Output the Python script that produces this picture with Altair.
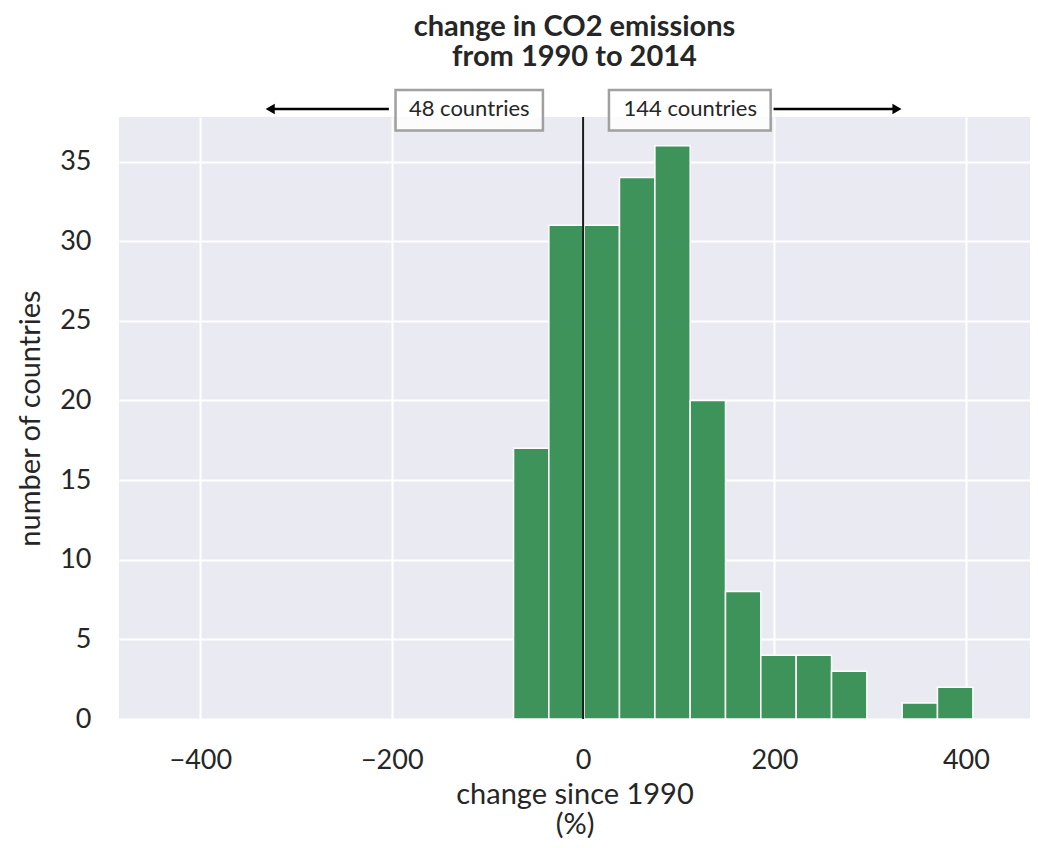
import altair as alt
import pandas as pd

# histogram bins (change since 1990, %) and counts
bin_start = [-72.7, -35.8, 1.1, 38.0, 75.0, 111.9, 148.8, 185.7, 222.7, 259.6, 296.5, 333.4, 370.3]
bin_end = [-35.8, 1.1, 38.0, 75.0, 111.9, 148.8, 185.7, 222.7, 259.6, 296.5, 333.4, 370.3, 407.3]
counts = [17, 31, 31, 34, 36, 20, 8, 4, 4, 3, 0, 1, 2]

# annotations
ann_text = ["48 countries", "144 countries"]
ann_x = [-119, 112]
box_x1 = [-196, 27]
box_x2 = [-42, 196]
arrow_from = [-203, 199]
arrow_to = [-327, 328]
arrow_shape = ["triangle-left", "triangle-right"]

FONT = "Lato"
X_DOM = [-485, 467]
Y_DOM = [0, 37.8]
ANN_Y = 38.3

hist = pd.DataFrame({"start": bin_start, "end": bin_end, "count": counts})
hist = hist[hist["count"] > 0]
ann = pd.DataFrame({"text": ann_text, "x": ann_x, "bx1": box_x1, "bx2": box_x2,
                    "a1": arrow_from, "a2": arrow_to, "shape": arrow_shape,
                    "y": [ANN_Y] * 2, "by1": [39.5] * 2, "by2": [36.95] * 2})

xs = alt.Scale(domain=X_DOM, nice=False, zero=False)
ys = alt.Scale(domain=Y_DOM, nice=False, zero=False)

bars = alt.Chart(hist).mark_bar(color="#3b9259", stroke="#ffffff", strokeWidth=1.5,
                                opacity=0.98).encode(
    x=alt.X("start:Q", scale=xs,
            axis=alt.Axis(values=[-400, -200, 0, 200, 400], title=["change since 1990", "(%)"],
                          format="d")),
    x2="end:Q",
    y=alt.Y("count:Q", scale=ys,
            axis=alt.Axis(values=[0, 5, 10, 15, 20, 25, 30, 35], title="number of countries")),
    y2=alt.datum(0),
)

vline = alt.Chart(pd.DataFrame({"x": [0], "y1": [0], "y2": [Y_DOM[1]]})).mark_rule(
    color="#1a1a1a", strokeWidth=2).encode(
    x=alt.X("x:Q", scale=xs), y=alt.Y("y1:Q", scale=ys), y2="y2:Q")

arrows = alt.Chart(ann).mark_rule(color="#000000", strokeWidth=2.5).encode(
    x=alt.X("a1:Q", scale=xs), x2="a2:Q", y=alt.Y("y:Q", scale=ys))

heads = alt.Chart(ann).mark_point(filled=True, color="#000000", opacity=1, size=110).encode(
    x=alt.X("a2:Q", scale=xs), y=alt.Y("y:Q", scale=ys),
    shape=alt.Shape("shape:N", scale=None))

boxes = alt.Chart(ann).mark_rect(fill="#ffffff", fillOpacity=0.85, stroke="#a0a0a0",
                                 strokeWidth=2.5).encode(
    x=alt.X("bx1:Q", scale=xs), x2="bx2:Q", y=alt.Y("by1:Q", scale=ys), y2="by2:Q")

labels = alt.Chart(ann).mark_text(font=FONT, fontSize=22, color="#262626",
                                  baseline="middle", align="center").encode(
    x=alt.X("x:Q", scale=xs), y=alt.Y("y:Q", scale=ys), text="text:N")

chart = alt.layer(bars, vline, arrows, heads, boxes, labels).properties(
    width=911, height=602,
    title=alt.TitleParams(["change in CO2 emissions", "from 1990 to 2014"], font=FONT,
                          fontSize=29, fontWeight="bold", color="#262626", anchor="middle",
                          offset=17, lineHeight=30),
    autosize=alt.AutoSizeParams(type="none"),
    padding={"left": 111, "top": 109, "right": 0, "bottom": 120},
).configure_view(fill="#eaeaf2", stroke=None).configure_axis(
    grid=True, gridColor="#ffffff", gridWidth=2, domain=False, ticks=False,
    labelFont=FONT, labelFontSize=27, labelColor="#262626",
    titleFont=FONT, titleFontSize=29, titleColor="#262626", titleFontWeight="normal",
).configure_axisX(labelPadding=28, titlePadding=7, titleLineHeight=30).configure_axisY(
    labelPadding=28, titlePadding=14)

chart.save("out.html", embed_options={"renderer": "svg", "actions": False})
